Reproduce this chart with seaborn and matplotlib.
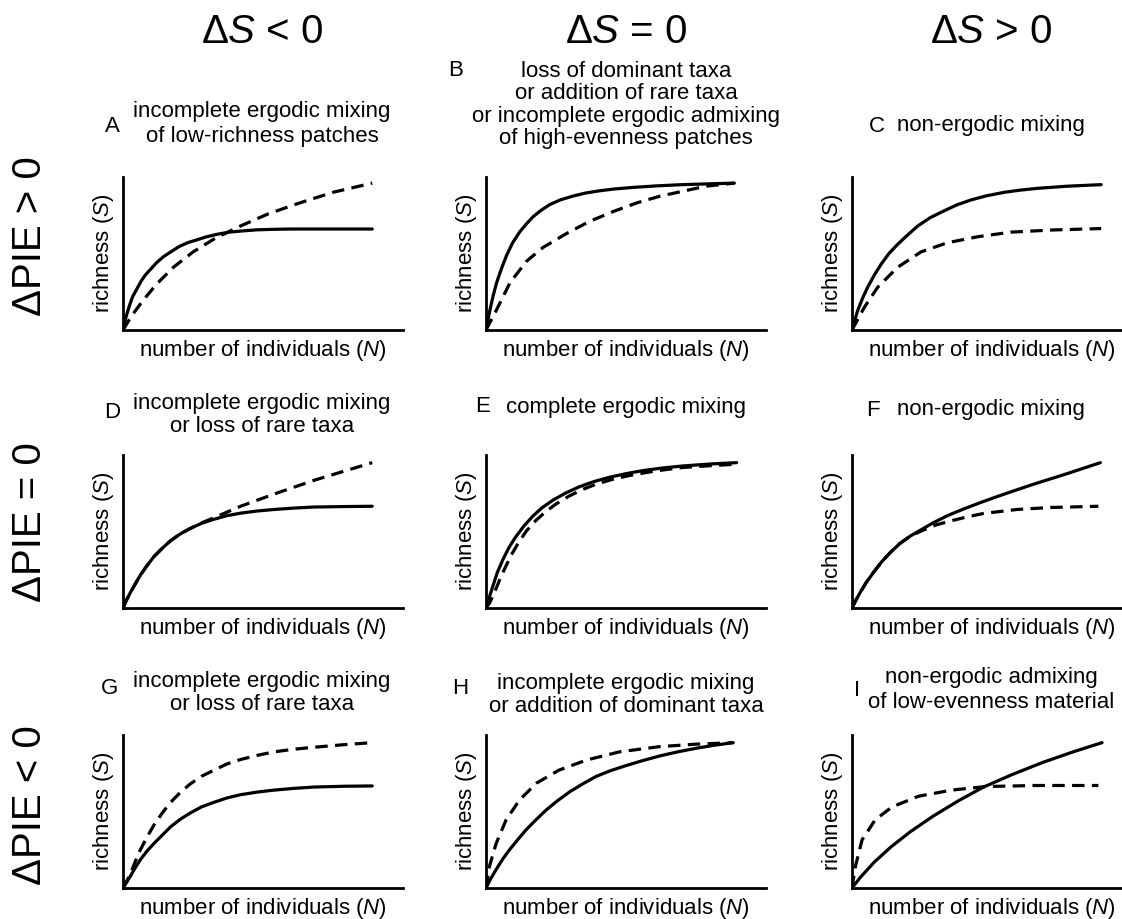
import matplotlib
matplotlib.use("Agg")
import matplotlib.pyplot as plt
import seaborn as sns

# rarefaction curves (N and S scaled 0..1 on each panel)
A_N_solid = [0, 0.005, 0.01, 0.018, 0.025, 0.035, 0.05, 0.065, 0.08, 0.10, 0.12, 0.145, 0.17, 0.20,
             0.23, 0.265, 0.30, 0.34, 0.38, 0.43, 0.48, 0.54, 0.60, 0.75, 0.89]
A_S_solid = [0, 0.04, 0.08, 0.13, 0.17, 0.22, 0.27, 0.32, 0.36, 0.40, 0.44, 0.48, 0.51, 0.545,
             0.57, 0.59, 0.61, 0.627, 0.64, 0.648, 0.655, 0.658, 0.66, 0.66, 0.66]
A_N_dash = [0, 0.03, 0.07, 0.12, 0.18, 0.25, 0.33, 0.42, 0.52, 0.63, 0.75, 0.89]
A_S_dash = [0, 0.09, 0.19, 0.30, 0.41, 0.51, 0.60, 0.68, 0.76, 0.83, 0.90, 0.96]

B_N_solid = [0, 0.005, 0.014, 0.025, 0.038, 0.055, 0.074, 0.095, 0.12, 0.145, 0.168, 0.195, 0.228,
             0.265, 0.31, 0.355, 0.406, 0.46, 0.525, 0.61, 0.70, 0.79, 0.887]
B_S_solid = [0, 0.05, 0.13, 0.22, 0.31, 0.40, 0.49, 0.57, 0.64, 0.695, 0.74, 0.78, 0.82,
             0.85, 0.875, 0.895, 0.91, 0.922, 0.932, 0.942, 0.95, 0.955, 0.96]
B_N_dash = [0, 0.038, 0.086, 0.145, 0.204, 0.287, 0.37, 0.454, 0.537, 0.62, 0.703, 0.786, 0.887]
B_S_dash = [0, 0.133, 0.31, 0.45, 0.54, 0.63, 0.71, 0.774, 0.83, 0.874, 0.907, 0.94, 0.96]

C_N_solid = [0, 0.02, 0.037, 0.056, 0.08, 0.104, 0.132, 0.163, 0.198, 0.235, 0.28, 0.33, 0.375,
             0.425, 0.48, 0.544, 0.60, 0.663, 0.77, 0.89]
C_S_solid = [0, 0.126, 0.205, 0.28, 0.36, 0.43, 0.50, 0.56, 0.62, 0.68, 0.735, 0.78, 0.818,
             0.85, 0.877, 0.90, 0.914, 0.926, 0.94, 0.95]
C_N_dash = [0, 0.044, 0.092, 0.163, 0.246, 0.34, 0.45, 0.57, 0.72, 0.89]
C_S_dash = [0, 0.148, 0.28, 0.41, 0.51, 0.57, 0.61, 0.64, 0.654, 0.663]

D_N_solid = [0, 0.012, 0.026, 0.043, 0.062, 0.085, 0.11, 0.14, 0.17, 0.205, 0.24, 0.28, 0.325,
             0.37, 0.42, 0.48, 0.54, 0.61, 0.683, 0.79, 0.89]
D_S_solid = [0, 0.05, 0.10, 0.155, 0.215, 0.275, 0.335, 0.39, 0.44, 0.485, 0.52, 0.553, 0.58,
             0.603, 0.62, 0.634, 0.644, 0.653, 0.66, 0.663, 0.665]
D_N_dash = [0, 0.012, 0.026, 0.043, 0.062, 0.085, 0.11, 0.14, 0.17, 0.205, 0.24, 0.28, 0.325,
            0.42, 0.54, 0.683, 0.89]
D_S_dash = [0, 0.05, 0.10, 0.155, 0.215, 0.275, 0.335, 0.39, 0.44, 0.485, 0.52, 0.556, 0.59,
            0.665, 0.745, 0.835, 0.95]

E_N_solid = [0, 0.01, 0.024, 0.04, 0.06, 0.082, 0.107, 0.135, 0.167, 0.20, 0.24, 0.285, 0.334,
             0.385, 0.44, 0.50, 0.56, 0.63, 0.70, 0.80, 0.895]
E_S_solid = [0, 0.06, 0.14, 0.23, 0.315, 0.395, 0.467, 0.535, 0.60, 0.655, 0.706, 0.752, 0.793,
             0.826, 0.854, 0.878, 0.898, 0.915, 0.928, 0.941, 0.95]
E_N_dash = [0, 0.012, 0.03, 0.05, 0.07, 0.093, 0.117, 0.145, 0.177, 0.21, 0.25, 0.295, 0.345,
            0.395, 0.45, 0.51, 0.57, 0.635, 0.70, 0.80, 0.895]
E_S_dash = [0, 0.03, 0.10, 0.19, 0.27, 0.355, 0.43, 0.505, 0.57, 0.625, 0.68, 0.73, 0.775,
            0.81, 0.84, 0.865, 0.885, 0.903, 0.918, 0.93, 0.94]

F_N_solid = [0, 0.015, 0.03, 0.052, 0.077, 0.105, 0.137, 0.17, 0.208, 0.25, 0.29, 0.345, 0.40,
             0.46, 0.518, 0.58, 0.65, 0.768, 0.887]
F_S_solid = [0, 0.055, 0.104, 0.17, 0.233, 0.30, 0.363, 0.42, 0.47, 0.515, 0.557, 0.607, 0.648,
             0.69, 0.728, 0.767, 0.81, 0.878, 0.95]
F_N_dash = [0, 0.015, 0.03, 0.052, 0.077, 0.105, 0.137, 0.17, 0.208, 0.256, 0.30, 0.35, 0.41,
            0.47, 0.59, 0.71, 0.88]
F_S_dash = [0, 0.055, 0.104, 0.17, 0.233, 0.30, 0.363, 0.42, 0.47, 0.51, 0.543, 0.568, 0.595,
            0.618, 0.644, 0.657, 0.665]

G_N_solid = [0, 0.012, 0.026, 0.043, 0.062, 0.085, 0.11, 0.14, 0.17, 0.205, 0.24, 0.28, 0.325,
             0.37, 0.42, 0.48, 0.54, 0.61, 0.683, 0.79, 0.89]
G_S_solid = [0, 0.035, 0.076, 0.13, 0.185, 0.24, 0.29, 0.345, 0.40, 0.45, 0.49, 0.53, 0.56,
             0.588, 0.61, 0.627, 0.64, 0.651, 0.66, 0.665, 0.667]
G_N_dash = [0, 0.012, 0.026, 0.043, 0.062, 0.085, 0.11, 0.14, 0.17, 0.205, 0.24, 0.28, 0.325,
            0.37, 0.42, 0.48, 0.54, 0.61, 0.683, 0.79, 0.89]
G_S_dash = [0, 0.04, 0.09, 0.17, 0.25, 0.33, 0.41, 0.49, 0.56, 0.625, 0.68, 0.73, 0.77,
            0.81, 0.84, 0.867, 0.89, 0.907, 0.92, 0.937, 0.95]

H_N_solid = [0, 0.015, 0.036, 0.06, 0.084, 0.113, 0.143, 0.178, 0.215, 0.255, 0.30, 0.345, 0.394,
             0.445, 0.50, 0.56, 0.62, 0.685, 0.75, 0.815, 0.883]
H_S_solid = [0, 0.055, 0.12, 0.19, 0.25, 0.315, 0.38, 0.445, 0.51, 0.57, 0.63, 0.68, 0.73,
             0.767, 0.80, 0.833, 0.863, 0.89, 0.913, 0.933, 0.95]
H_N_dash = [0, 0.012, 0.036, 0.072, 0.12, 0.18, 0.26, 0.36, 0.477, 0.62, 0.75, 0.883]
H_S_dash = [0, 0.14, 0.29, 0.446, 0.576, 0.685, 0.77, 0.837, 0.89, 0.924, 0.94, 0.95]

I_N_solid = [0, 0.03, 0.08, 0.14, 0.21, 0.29, 0.38, 0.47, 0.57, 0.68, 0.79, 0.893]
I_S_solid = [0, 0.07, 0.17, 0.27, 0.37, 0.47, 0.57, 0.66, 0.74, 0.82, 0.89, 0.95]
I_N_dash = [0, 0.012, 0.036, 0.083, 0.143, 0.238, 0.357, 0.476, 0.655, 0.88]
I_S_dash = [0, 0.14, 0.315, 0.446, 0.53, 0.60, 0.64, 0.663, 0.67, 0.67]

col_headers = ["Δ$S$ < 0", "Δ$S$ = 0", "Δ$S$ > 0"]
row_headers = ["ΔPIE > 0", "ΔPIE = 0", "ΔPIE < 0"]
letters = ["A", "B", "C", "D", "E", "F", "G", "H", "I"]
titles = [
    "incomplete ergodic mixing\nof low-richness patches",
    "loss of dominant taxa\nor addition of rare taxa\nor incomplete ergodic admixing\nof high-evenness patches",
    "non-ergodic mixing",
    "incomplete ergodic mixing\nor loss of rare taxa",
    "complete ergodic mixing",
    "non-ergodic mixing",
    "incomplete ergodic mixing\nor loss of rare taxa",
    "incomplete ergodic mixing\nor addition of dominant taxa",
    "non-ergodic admixing\nof low-evenness material",
]
curves = [
    (A_N_solid, A_S_solid, A_N_dash, A_S_dash),
    (B_N_solid, B_S_solid, B_N_dash, B_S_dash),
    (C_N_solid, C_S_solid, C_N_dash, C_S_dash),
    (D_N_solid, D_S_solid, D_N_dash, D_S_dash),
    (E_N_solid, E_S_solid, E_N_dash, E_S_dash),
    (F_N_solid, F_S_solid, F_N_dash, F_S_dash),
    (G_N_solid, G_S_solid, G_N_dash, G_S_dash),
    (H_N_solid, H_S_solid, H_N_dash, H_S_dash),
    (I_N_solid, I_S_solid, I_N_dash, I_S_dash),
]

sns.set_style("white")
plt.rcParams["font.family"] = ["Liberation Sans", "DejaVu Sans"]
plt.rcParams["mathtext.fontset"] = "custom"
plt.rcParams["mathtext.it"] = "Liberation Sans:italic"
plt.rcParams["mathtext.rm"] = "Liberation Sans"
plt.rcParams["text.color"] = "black"
plt.rcParams["axes.labelcolor"] = "black"

W, H = 1122, 919
fig = plt.figure(figsize=(W / 100, H / 100), dpi=100)


def ftext(x, y, s, **kw):
    # place text in pixel coordinates (from top-left)
    fig.text(x / W, 1 - y / H, s, **kw)


col_x = [123, 486, 852]
row_y = [177, 455, 735]
ax_w, ax_h = 280, 153
col_c = [262, 626, 991]

# title block centres, line pitch and letter positions (pixels)
title_pos = [(262, 124, 1.26), (626, 105, 1.08), (991, 126, 1.1),
             (262, 415, 1.12), (626, 407, 1.1), (991, 410, 1.1),
             (262, 693, 1.15), (626, 695, 1.12), (991, 690, 1.3)]
letter_pos = [(112, 127), (456, 71), (877, 126),
              (112, 412), (483, 407), (873, 410),
              (110, 688), (460, 688), (857, 691)]

for k in range(9):
    r, c = divmod(k, 3)
    left = col_x[c] / W
    bottom = 1 - (row_y[r] + ax_h) / H
    ax = fig.add_axes([left, bottom, ax_w / W, ax_h / H])
    ns, ss, nd, sd = curves[k]
    sns.lineplot(x=nd, y=sd, ax=ax, color="black", lw=2.3, sort=False, estimator=None)
    ax.lines[-1].set_dashes((3.9, 2.3))
    sns.lineplot(x=ns, y=ss, ax=ax, color="black", lw=2.3, sort=False, estimator=None)
    ax.lines[-1].set_solid_joinstyle("round")
    ax.set_xlim(0, 1)
    ax.set_ylim(0, 1)
    ax.set_xticks([])
    ax.set_yticks([])
    for side in ["top", "right"]:
        ax.spines[side].set_visible(False)
    for side in ["left", "bottom"]:
        ax.spines[side].set_linewidth(2.0)
        ax.spines[side].set_color("black")
    ax.set_xlabel("number of individuals ($N$)", fontsize=16)
    ax.set_ylabel("richness ($S$)", fontsize=16)
    ax.xaxis.set_label_coords(0.5, -0.05)
    ax.yaxis.set_label_coords(-0.025, 0.5)

    tx, ty, ls = title_pos[k]
    ftext(tx, ty, titles[k], ha="center", va="center", fontsize=16,
          linespacing=ls, multialignment="center")
    lx, ly = letter_pos[k]
    ftext(lx, ly, letters[k], ha="center", va="center", fontsize=16)

for c in range(3):
    ftext(col_c[c], 32, col_headers[c], ha="center", va="center", fontsize=29)
row_c = [236, 522, 805]
for r in range(3):
    ftext(30, row_c[r], row_headers[r], ha="center", va="center", fontsize=29, rotation=90)

fig.savefig("out.png", dpi=100, facecolor="white")
